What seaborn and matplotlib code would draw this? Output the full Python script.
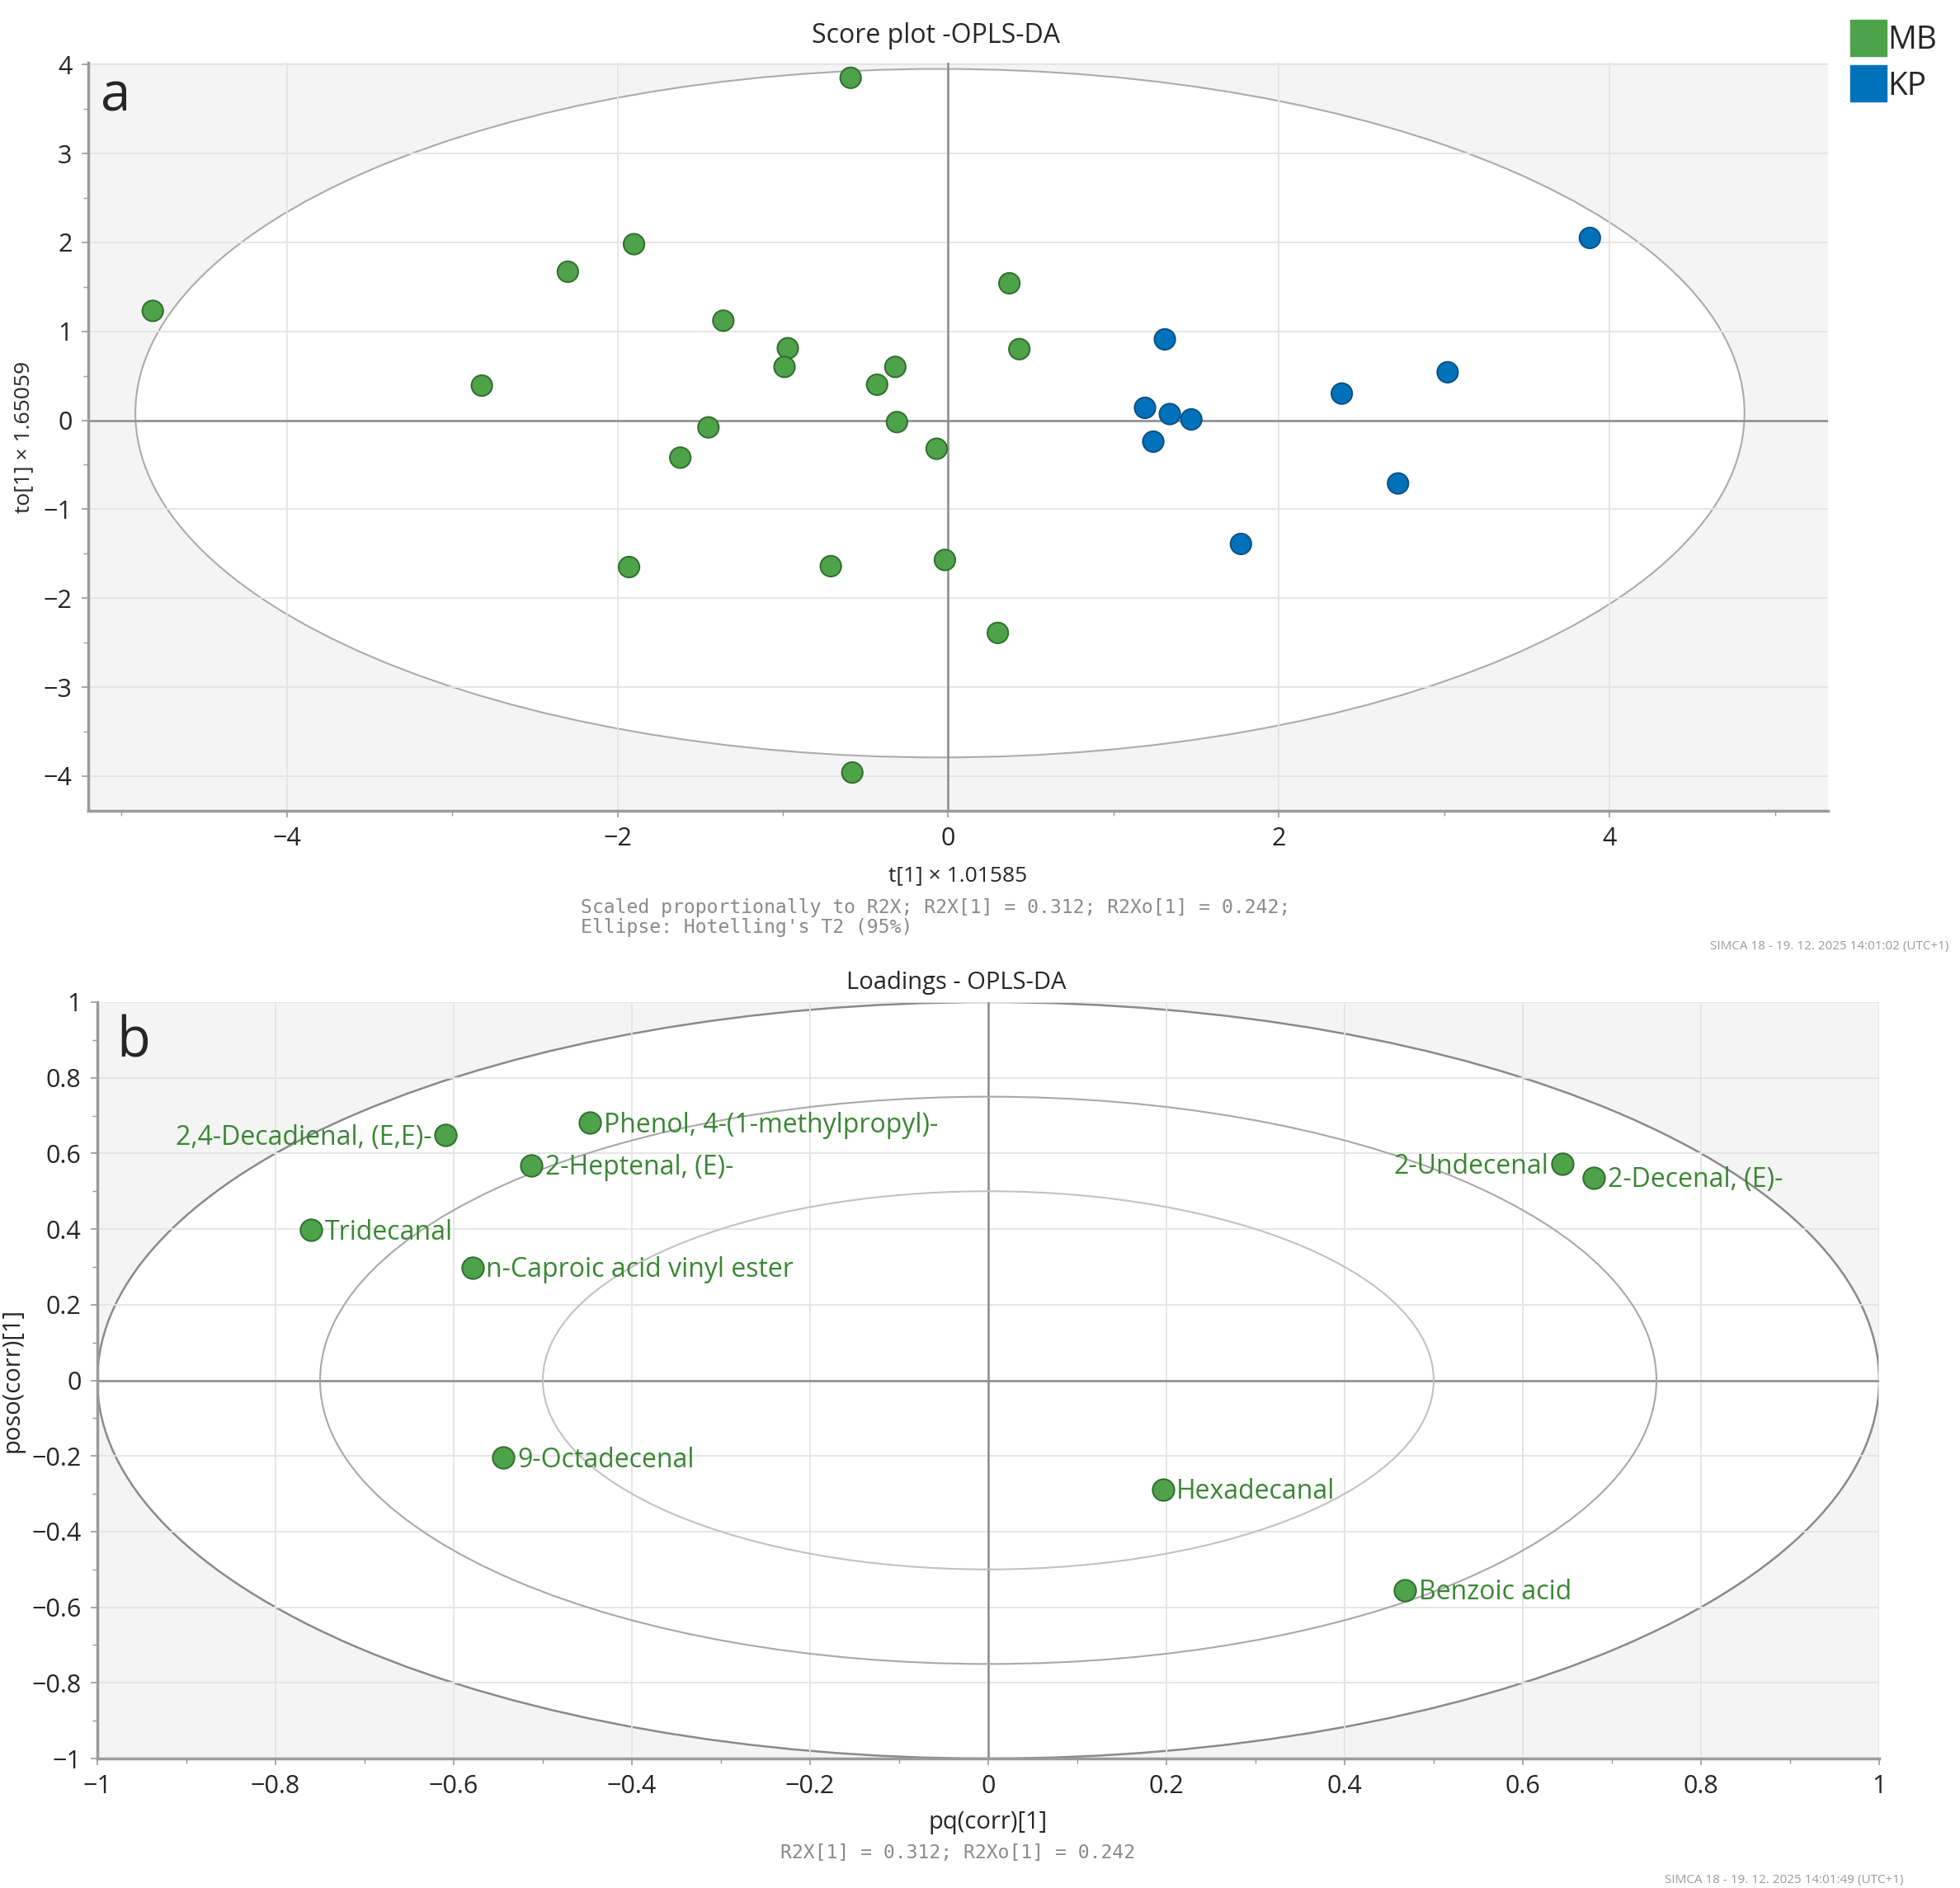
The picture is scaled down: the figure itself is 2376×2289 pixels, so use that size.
import numpy as np
import pandas as pd
import seaborn as sns
import matplotlib
matplotlib.use("Agg")
import matplotlib.pyplot as plt
from matplotlib.patches import Ellipse
from matplotlib.lines import Line2D
from matplotlib.ticker import MultipleLocator

# score plot (t[1] scaled, to[1] scaled)
score_t = [-4.81, -2.82, -2.30, -1.90, -1.36, -0.97, -0.99, -0.59, -0.32, -0.43,
           -0.31, -1.45, -1.62, -0.07, -1.93, -0.71, -0.02, -0.58, 0.37, 0.43, 0.30,
           3.88, 1.31, 3.02, 2.38, 1.19, 1.34, 1.47, 1.24, 2.72, 1.77]
score_to = [1.23, 0.39, 1.67, 1.98, 1.12, 0.81, 0.60, 3.85, 0.60, 0.40,
            -0.02, -0.08, -0.42, -0.32, -1.65, -1.64, -1.57, -3.96, 1.54, 0.80, -2.39,
            2.05, 0.91, 0.54, 0.30, 0.14, 0.07, 0.01, -0.24, -0.71, -1.39]
score_group = ["MB"] * 21 + ["KP"] * 10
groups = ["MB", "KP"]
group_colors = {"MB": "#4ea24a", "KP": "#0072bc"}

# loadings plot
loading_names = ["2,4-Decadienal, (E,E)-", "Phenol, 4-(1-methylpropyl)-", "2-Heptenal, (E)-",
                 "Tridecanal", "n-Caproic acid vinyl ester", "9-Octadecenal", "Hexadecanal",
                 "Benzoic acid", "2-Undecenal", "2-Decenal, (E)-"]
loading_pq = [-0.609, -0.447, -0.513, -0.760, -0.579, -0.544, 0.196, 0.468, 0.644, 0.680]
loading_poso = [0.648, 0.681, 0.569, 0.397, 0.298, -0.205, -0.288, -0.555, 0.572, 0.536]
left_labels = {"2,4-Decadienal, (E,E)-", "2-Undecenal"}

scores = pd.DataFrame({"t": score_t, "to": score_to, "group": score_group})
loadings = pd.DataFrame({"pq": loading_pq, "poso": loading_poso, "name": loading_names})

sns.set_style("white")
plt.rcParams["font.family"] = ["Open Sans", "DejaVu Sans"]

W, H = 2376, 2289
fig = plt.figure(figsize=(W / 100, H / 100), dpi=100)

grid_c = "#e4e4e4"
zero_c = "#8c8c8c"
spine_c = "#9a9a9a"
bg_c = "#f4f4f4"
label_green = "#3a8634"


def style_axes(ax):
    ax.set_facecolor(bg_c)
    for s in ["top", "right"]:
        ax.spines[s].set_visible(False)
    for s in ["left", "bottom"]:
        ax.spines[s].set_color(spine_c)
        ax.spines[s].set_linewidth(2.5)
    ax.grid(True, which="major", color=grid_c, lw=1.3, zorder=0)
    ax.set_axisbelow(True)
    ax.tick_params(which="major", direction="out", length=6, width=1.2, color=spine_c,
                   labelsize=22, pad=8, bottom=True, left=True)
    ax.tick_params(which="minor", direction="out", length=4, width=1.0, color=spine_c,
                   bottom=True, left=True)
    ax.axhline(0, color=zero_c, lw=1.8, zorder=1)
    ax.axvline(0, color=zero_c, lw=1.8, zorder=1)


# ---- a: score plot ----
ax1 = fig.add_axes([107 / W, 1 - 983 / H, (2216 - 107) / W, (983 - 76) / H])
style_axes(ax1)
ax1.add_patch(Ellipse((-0.05, 0.08), 2 * 4.865, 2 * 3.87, facecolor="white",
                      edgecolor="#ababab", lw=1.5, zorder=0.5))
ax1.set_xlim(-5.2, 5.32)
ax1.set_ylim(-4.39, 4.02)
ax1.xaxis.set_major_locator(MultipleLocator(2))
ax1.xaxis.set_minor_locator(MultipleLocator(1))
ax1.yaxis.set_major_locator(MultipleLocator(1))
ax1.yaxis.set_minor_locator(MultipleLocator(0.5))
sns.scatterplot(data=scores, x="t", y="to", hue="group", hue_order=groups,
                palette=group_colors, s=330, linewidth=1.4,
                edgecolor=["#2f6e2c" if g == "MB" else "#0b4f85" for g in score_group],
                legend=False, zorder=3, ax=ax1)
ax1.set_xlabel("t[1] × 1.01585", fontsize=19, labelpad=12)
ax1.set_ylabel("to[1] × 1.65059", fontsize=19, labelpad=8)
ax1.text(0.007, 0.936, "a", transform=ax1.transAxes, fontsize=47, va="baseline", ha="left")

fig.text(1135 / W, 1 - 43 / H, "Score plot -OPLS-DA", fontsize=23, ha="center", va="center")
fig.text(704 / W, 1 - 1101 / H, "Scaled proportionally to R2X; R2X[1] = 0.312; R2Xo[1] = 0.242;",
         family="DejaVu Sans Mono", fontsize=16.6, color="#8a8a8a", ha="left", va="center")
fig.text(704 / W, 1 - 1124 / H, "Ellipse: Hotelling's T2 (95%)",
         family="DejaVu Sans Mono", fontsize=16.6, color="#8a8a8a", ha="left", va="center")
fig.text(2362 / W, 1 - 1148 / H, "SIMCA 18 - 19. 12. 2025 14:01:02 (UTC+1)",
         fontsize=11, color="#9a9a9a", ha="right", va="center")

handles = [Line2D([], [], marker="s", ls="", markersize=31, color=group_colors[g]) for g in groups]
fig.legend(handles, groups, loc="upper right", bbox_to_anchor=(0.998, 0.997), frameon=False,
           fontsize=28, handlelength=1.0, handletextpad=0.1, labelspacing=0.45,
           borderpad=0.1)

# ---- b: loadings plot ----
ax2 = fig.add_axes([118 / W, 1 - 2132 / H, (2278 - 118) / W, (2132 - 1215) / H])
style_axes(ax2)
ax2.add_patch(Ellipse((0, 0), 2.0, 2.0, facecolor="white", edgecolor="#8a8a8a", lw=1.8, zorder=0.5))
ax2.add_patch(Ellipse((0, 0), 1.5, 1.5, facecolor="none", edgecolor="#a8a8a8", lw=1.5, zorder=1.5))
ax2.add_patch(Ellipse((0, 0), 1.0, 1.0, facecolor="none", edgecolor="#c2c2c2", lw=1.5, zorder=1.5))
ax2.set_xlim(-1, 1)
ax2.set_ylim(-1, 1)
ax2.xaxis.set_major_locator(MultipleLocator(0.2))
ax2.xaxis.set_minor_locator(MultipleLocator(0.1))
ax2.yaxis.set_major_locator(MultipleLocator(0.2))
ax2.yaxis.set_minor_locator(MultipleLocator(0.1))
ax2.xaxis.set_major_formatter(lambda v, p: ("%g" % round(v, 2)).replace("-", "\u2212"))
ax2.yaxis.set_major_formatter(lambda v, p: ("%g" % round(v, 2)).replace("-", "\u2212"))
sns.scatterplot(data=loadings, x="pq", y="poso", color="#4ea24a", s=360, linewidth=1.4,
                edgecolor="#2f6e2c", legend=False, zorder=3, ax=ax2)
for name, px, py in zip(loading_names, loading_pq, loading_poso):
    if name in left_labels:
        ax2.annotate(name, (px, py), xytext=(-12, -2), textcoords="offset points",
                     ha="right", va="center", fontsize=23, color=label_green, zorder=4)
    else:
        ax2.annotate(name, (px, py), xytext=(12, -2), textcoords="offset points",
                     ha="left", va="center", fontsize=23, color=label_green, zorder=4)
ax2.set_xlabel("pq(corr)[1]", fontsize=21, labelpad=10)
ax2.set_ylabel("poso(corr)[1]", fontsize=21, labelpad=6)
ax2.text(0.0106, 0.928, "b", transform=ax2.transAxes, fontsize=48, va="baseline", ha="left")

fig.text(1159 / W, 1 - 1191 / H, "Loadings - OPLS-DA", fontsize=21, ha="center", va="center")
fig.text(1161 / W, 1 - 2246 / H, "R2X[1] = 0.312; R2Xo[1] = 0.242",
         family="DejaVu Sans Mono", fontsize=16.6, color="#8a8a8a", ha="center", va="center")
fig.text(2308 / W, 1 - 2279 / H, "SIMCA 18 - 19. 12. 2025 14:01:49 (UTC+1)",
         fontsize=11, color="#9a9a9a", ha="right", va="center")

fig.savefig("out.png", dpi=100)
